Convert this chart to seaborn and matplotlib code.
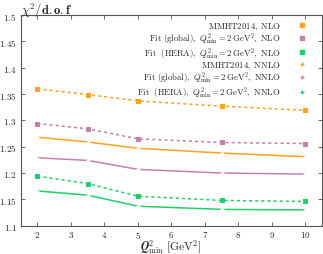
import numpy as np
import pandas as pd
import matplotlib
matplotlib.use("Agg")
import matplotlib.pyplot as plt
from matplotlib.lines import Line2D
from matplotlib.ticker import FuncFormatter, MultipleLocator
import seaborn as sns

# --- data ---
q2min = [2, 3.5, 5, 7.5, 10]
mmht_nlo = [1.360, 1.349, 1.337, 1.327, 1.319]
glob_nlo = [1.294, 1.284, 1.265, 1.258, 1.256]
hera_nlo = [1.194, 1.180, 1.156, 1.148, 1.146]
mmht_nnlo = [1.268, 1.259, 1.247, 1.238, 1.231]
glob_nnlo = [1.229, 1.224, 1.207, 1.200, 1.198]
hera_nnlo = [1.166, 1.158, 1.137, 1.131, 1.130]

labels = [
    r"$\mathrm{MMHT2014,\ NLO}$",
    r"$\mathrm{Fit\ (global)},\ Q^2_{\rm min}=2\,\mathrm{GeV}^2\mathrm{,\ NLO}$",
    r"$\mathrm{Fit\ \ (HERA)},\ Q^2_{\rm min}=2\,\mathrm{GeV}^2\mathrm{,\ NLO}$",
    r"$\mathrm{MMHT2014,\ NNLO}$",
    r"$\mathrm{Fit\ (global)},\ Q^2_{\rm min}=2\,\mathrm{GeV}^2\mathrm{,\ NNLO}$",
    r"$\mathrm{Fit\ \ (HERA)},\ Q^2_{\rm min}=2\,\mathrm{GeV}^2\mathrm{,\ NNLO}$",
]

ORANGE = "#ffa21f"
PURPLE = "#c57fab"
GREEN = "#1fcf6a"

sns.set_theme(style="ticks")
plt.rcParams["mathtext.fontset"] = "cm"
plt.rcParams["font.family"] = ["DejaVu Serif"]

fig = plt.figure(figsize=(3.23, 2.55), dpi=100)
ax = fig.add_axes([0.064, 0.111, 0.933, 0.826])

series = [
    (mmht_nlo, ORANGE, "nlo"), (glob_nlo, PURPLE, "nlo"), (hera_nlo, GREEN, "nlo"),
    (mmht_nnlo, ORANGE, "nnlo"), (glob_nnlo, PURPLE, "nnlo"), (hera_nnlo, GREEN, "nnlo"),
]

handles = []
for vals, col, order in series:
    if order == "nlo":
        sns.lineplot(x=q2min, y=vals, ax=ax, color=col, lw=1.1, marker="s", ms=3,
                     mec=col, linestyle=(0, (2, 2)))
        handles.append(Line2D([], [], color=col, marker="s", ms=2.5, linestyle="none"))
    else:
        sns.lineplot(x=q2min, y=vals, ax=ax, color=col, lw=1.1, marker="+", ms=3.5,
                     mew=1.0)
        handles.append(Line2D([], [], color=col, marker="+", ms=2.5, mew=1.0, linestyle="none"))

ax.set_xlim(1.5, 10.5)
ax.set_ylim(1.1, 1.5)
ax.xaxis.set_major_locator(MultipleLocator(1))
ax.yaxis.set_major_locator(MultipleLocator(0.05))
ax.xaxis.set_major_formatter(FuncFormatter(lambda v, p: f"${v:g}$"))
ax.yaxis.set_major_formatter(FuncFormatter(lambda v, p: f"${v:g}$"))
ax.tick_params(direction="in", top=True, right=True, labelsize=6.5, length=3,
               width=0.6, color="#555555", pad=3)
ax.tick_params(axis="x", pad=2.2)
ax.set_xticks([t for t in ax.get_xticks() if 2 <= t <= 10])
for s in ax.spines.values():
    s.set_linewidth(0.8)
    s.set_color("#555555")

ax.legend(handles, labels, loc="upper right", frameon=False, markerfirst=False,
          fontsize=6.3, handlelength=1.0, handletextpad=1.9, labelspacing=-0.12,
          borderaxespad=0.2, bbox_to_anchor=(0.965, 1.0))

ax.set_xlabel("")
ax.set_ylabel("")
fig.text(0.53, 0.016, r"$\mathbfit{Q}^2_{\rm min}\ [\mathrm{GeV}^2]$", fontsize=8.3,
         ha="center", va="baseline")
fig.text(0.066, 0.94, r"$\mathbf{\chi^2/d.o.f}$", fontsize=9, ha="left", va="baseline")

fig.savefig("out.png", dpi=100)
